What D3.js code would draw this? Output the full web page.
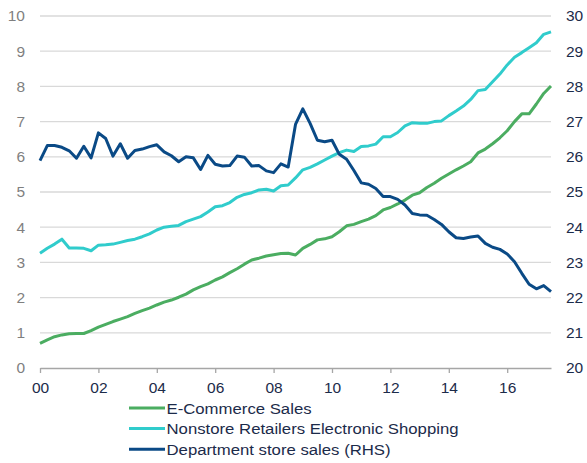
<!DOCTYPE html>
<html>
<head>
<meta charset="utf-8">
<script src="https://cdn.jsdelivr.net/npm/d3@7"></script>
<style>
  html, body { margin: 0; padding: 0; background: #ffffff; }
  svg { display: block; }
  text { font-family: "Liberation Sans", Arial, sans-serif; }
</style>
</head>
<body>
<svg id="chart" width="587" height="463"></svg>
<script>
// Quarterly observations, years since 2000 (2000Q1 = 0)
const quarters = d3.range(0, 17.5001, 0.25);

// E-Commerce sales, % (left axis)
const ecommerce = [
  0.70, 0.80, 0.89, 0.94, 0.97, 0.98, 0.98, 1.06,
  1.16, 1.24, 1.32, 1.39, 1.46, 1.55, 1.63, 1.70,
  1.79, 1.87, 1.93, 2.01, 2.10, 2.22, 2.31, 2.39,
  2.50, 2.59, 2.71, 2.82, 2.95, 3.07, 3.12, 3.18,
  3.22, 3.25, 3.26, 3.21, 3.40, 3.51, 3.64, 3.67,
  3.73, 3.87, 4.04, 4.08, 4.16, 4.23, 4.33, 4.49,
  4.56, 4.66, 4.77, 4.91, 4.98, 5.13, 5.25, 5.39,
  5.51, 5.63, 5.74, 5.86, 6.11, 6.22, 6.37, 6.54,
  6.74, 7.00, 7.22, 7.22, 7.50, 7.80, 8.01
];

// Nonstore retailers electronic shopping, % (left axis)
const nonstore = [
  3.26, 3.40, 3.52, 3.66, 3.41, 3.41, 3.40, 3.33,
  3.49, 3.50, 3.52, 3.57, 3.62, 3.66, 3.73, 3.81,
  3.92, 4.00, 4.03, 4.05, 4.16, 4.23, 4.30, 4.43,
  4.58, 4.61, 4.70, 4.85, 4.93, 4.98, 5.06, 5.08,
  5.03, 5.18, 5.20, 5.40, 5.63, 5.70, 5.80, 5.91,
  6.02, 6.12, 6.19, 6.15, 6.29, 6.31, 6.36, 6.57,
  6.57, 6.69, 6.88, 6.97, 6.95, 6.95, 7.00, 7.02,
  7.17, 7.30, 7.44, 7.63, 7.88, 7.91, 8.13, 8.35,
  8.61, 8.83, 8.96, 9.10, 9.24, 9.48, 9.55
];

// Department store sales, % (right axis)
const deptStore = [
  25.89, 26.32, 26.32, 26.27, 26.17, 25.96, 26.30, 25.97,
  26.68, 26.52, 26.02, 26.37, 25.96, 26.18, 26.22, 26.29,
  26.34, 26.14, 26.03, 25.86, 26.00, 25.97, 25.64, 26.04,
  25.79, 25.74, 25.75, 26.02, 25.99, 25.74, 25.75, 25.60,
  25.55, 25.80, 25.71, 26.92, 27.36, 26.95, 26.47, 26.43,
  26.47, 26.07, 25.93, 25.61, 25.26, 25.22, 25.10, 24.87,
  24.87, 24.79, 24.63, 24.39, 24.35, 24.34, 24.22, 24.08,
  23.87, 23.70, 23.68, 23.72, 23.75, 23.54, 23.43, 23.37,
  23.24, 23.02, 22.69, 22.38, 22.25, 22.34, 22.17
];

const xTicks = [0, 2, 4, 6, 8, 10, 12, 14, 16];
const xTickLabels = ["00", "02", "04", "06", "08", "10", "12", "14", "16"];
const leftTicks = d3.range(0, 11, 1);
const rightTicks = d3.range(20, 31, 1);

const seriesNames = [
  "E-Commerce Sales",
  "Nonstore Retailers Electronic Shopping",
  "Department store sales (RHS)"
];
const seriesColors = ["#4bad61", "#30cccc", "#0a4a86"];

const svg = d3.select("#chart");
const plot = { left: 40, right: 551, top: 16, bottom: 368 };

const x = d3.scaleLinear().domain([0, 17.5]).range([plot.left, plot.right]);
const yL = d3.scaleLinear().domain([0, 10]).range([plot.bottom, plot.top]);
const yR = d3.scaleLinear().domain([20, 30]).range([plot.bottom, plot.top]);

// Horizontal gridlines
svg.append("g")
  .selectAll("line")
  .data(leftTicks.filter(d => d > 0))
  .join("line")
  .attr("x1", plot.left).attr("x2", plot.right)
  .attr("y1", d => yL(d)).attr("y2", d => yL(d))
  .attr("stroke", "#d9d9d9").attr("stroke-width", 1.3);

// Bottom axis
const xAxis = d3.axisBottom(x)
  .tickValues(xTicks)
  .tickFormat((d, i) => xTickLabels[i])
  .tickSize(5)
  .tickSizeOuter(0)
  .tickPadding(9);
const gx = svg.append("g")
  .attr("transform", `translate(0,${plot.bottom})`)
  .call(xAxis);
gx.select(".domain").attr("stroke", "#a6a6a6").attr("stroke-width", 1.3);
gx.selectAll(".tick line").attr("stroke", "#a6a6a6").attr("stroke-width", 1.3);
gx.selectAll(".tick text")
  .attr("fill", "#1c2b4a")
  .style("font-size", "15.5px")
  .style("font-family", "'Liberation Sans', Arial, sans-serif");

// Left axis (labels only)
const gl = svg.append("g")
  .attr("transform", `translate(${plot.left},0)`)
  .call(d3.axisLeft(yL).tickValues(leftTicks).tickSize(0).tickPadding(15).tickFormat(d3.format("d")));
gl.select(".domain").remove();
gl.selectAll(".tick text")
  .attr("fill", "#7f7f7f")
  .style("font-size", "15.5px")
  .style("font-family", "'Liberation Sans', Arial, sans-serif");

// Right axis (labels only)
const gr = svg.append("g")
  .attr("transform", `translate(${plot.right},0)`)
  .call(d3.axisRight(yR).tickValues(rightTicks).tickSize(0).tickPadding(15).tickFormat(d3.format("d")));
gr.select(".domain").remove();
gr.selectAll(".tick text")
  .attr("fill", "#1c2b4a")
  .style("font-size", "15.5px")
  .style("font-family", "'Liberation Sans', Arial, sans-serif");

// Series lines
const lineL = d3.line().x((d, i) => x(quarters[i])).y(d => yL(d));
const lineR = d3.line().x((d, i) => x(quarters[i])).y(d => yR(d));

const lines = [
  { values: ecommerce, gen: lineL, color: seriesColors[0] },
  { values: nonstore, gen: lineL, color: seriesColors[1] },
  { values: deptStore, gen: lineR, color: seriesColors[2] }
];

svg.append("g")
  .selectAll("path")
  .data(lines)
  .join("path")
  .attr("d", d => d.gen(d.values))
  .attr("fill", "none")
  .attr("stroke", d => d.color)
  .attr("stroke-width", 3)
  .attr("stroke-linejoin", "round");

// Legend
const legend = svg.append("g").attr("transform", "translate(129,408)");
const rows = legend.selectAll("g")
  .data(seriesNames)
  .join("g")
  .attr("transform", (d, i) => `translate(0,${i * 20.6})`);
rows.append("line")
  .attr("x1", 0).attr("x2", 36)
  .attr("y1", 0).attr("y2", 0)
  .attr("stroke", (d, i) => seriesColors[i])
  .attr("stroke-width", 3);
rows.append("text")
  .attr("transform", "translate(37.5,5.5) scale(1.08,1)")
  .attr("fill", "#1c2b4a")
  .style("font-size", "15.5px")
  .text(d => d);
</script>
</body>
</html>
